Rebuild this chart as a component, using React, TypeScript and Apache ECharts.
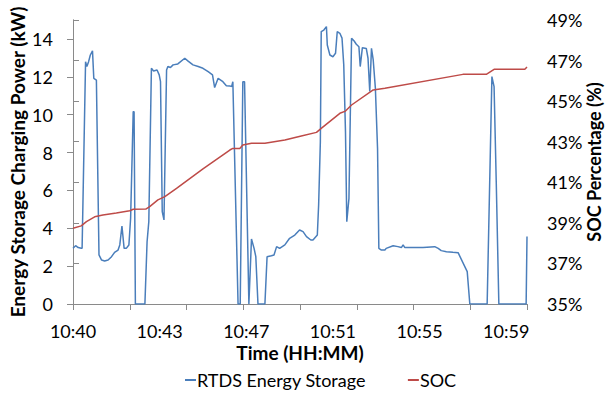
import React, { useEffect, useRef } from "react";
import * as echarts from "echarts";

// x positions are sample indices along the category-like time axis (0..1048)
const TIME_LABELS = ["10:40", "10:43", "10:47", "10:51", "10:55", "10:59"];
const LABEL_STEP = 200;
const X_MAX = 1048;
const TICK_STEP = 131;

const POWER_IDX = [
  0, 6, 12, 19, 21, 29, 32, 36, 40, 45, 48, 54, 60, 66, 73, 81, 89, 96, 104, 108, 113, 118, 123, 129, 133, 139, 141, 144,
  166, 171, 175, 181, 186, 194, 199, 202, 206, 210, 216, 219, 225, 231, 242, 258, 265, 277, 289, 300, 312, 322, 327, 335,
  346, 354, 362, 366, 369, 381, 386, 392, 396, 406, 412, 418, 422, 427, 443, 448, 458, 464, 470, 477, 489, 500, 512, 523,
  531, 539, 549, 554, 564, 567, 571, 573, 579, 585, 587, 593, 600, 606, 610, 616, 621, 625, 629, 632, 637, 643, 649, 654,
  660, 663, 668, 677, 681, 685, 689, 693, 698, 703, 706, 712, 720, 723, 739, 750, 758, 762, 766, 785, 808, 835, 843, 850,
  862, 877, 889, 910, 916, 956, 967, 972, 977, 983, 1046, 1048,
];
const POWER_KW = [
  2.94, 3.08, 2.98, 2.94, 2.94, 12.8, 12.54, 12.8, 13.15, 13.37, 11.92, 11.83, 2.59, 2.32, 2.27, 2.32, 2.5, 2.73, 2.85, 3.12,
  4.12, 2.94, 2.94, 3.12, 4.53, 10.16, 10.16, 0, 0, 3.29, 4.35, 12.45, 12.31, 12.36, 12.1, 11.74, 4.88, 4.44, 12.36, 12.54,
  12.49, 12.63, 12.68, 12.98, 12.84, 12.63, 12.54, 12.45, 12.27, 12.1, 11.43, 11.92, 11.74, 11.53, 11.52, 11.48, 11.74, 0, 0,
  11.74, 11.74, 0, 3.43, 2.94, 2.5, 0, 0, 2.5, 2.55, 2.59, 3.03, 2.94, 3.12, 3.47, 3.64, 3.91, 3.82, 3.56, 3.38, 3.38, 3.64,
  5.23, 8.57, 14.39, 14.47, 14.65, 13.68, 13.15, 13.06, 13.24, 14.39, 14.3, 14.04, 12.63, 9.1, 4.35, 5.58, 14.04, 13.89,
  13.72, 13.59, 12.54, 13.54, 13.5, 12.98, 11.22, 13.5, 12.89, 11.4, 8.22, 2.94, 2.85, 2.85, 2.94, 3.08, 3.03, 2.98, 3.12,
  2.98, 2.98, 2.98, 3.03, 2.94, 2.82, 2.76, 2.73, 2.71, 1.71, 0, 0, 12.01, 11.48, 6.46, 0, 0, 3.56,
];

const SOC_IDX = [
  0, 19, 31, 50, 69, 100, 131, 139, 168, 177, 196, 212, 239, 300, 362, 369, 385, 392, 412, 443, 489, 527, 562, 573, 616,
  629, 643, 693, 720, 900, 954, 972, 1043, 1048,
];
const SOC_PCT = [
  38.73, 38.85, 39.06, 39.3, 39.39, 39.49, 39.6, 39.67, 39.68, 39.8, 40.13, 40.29, 40.7, 41.66, 42.59, 42.67, 42.67, 42.84,
  42.92, 42.92, 43.08, 43.28, 43.46, 43.66, 44.4, 44.51, 44.81, 45.55, 45.63, 46.32, 46.32, 46.57, 46.57, 46.68,
];

const FONT = "Lato";
const AXIS_GRAY = "#8a8a8a";

export default function App() {
  const ref = useRef<HTMLDivElement>(null);
  useEffect(() => {
    if (!ref.current) return;
    const chart = echarts.init(ref.current, undefined, { renderer: "svg" });
    const powerData = POWER_IDX.map((x, i) => [x, POWER_KW[i]]);
    const socData = SOC_IDX.map((x, i) => [x, SOC_PCT[i]]);
    const axisLine = { show: true, lineStyle: { color: AXIS_GRAY, width: 1 } };
    const tick = { show: true, inside: false, length: 6, lineStyle: { color: AXIS_GRAY } };
    chart.setOption({
      animation: false,
      textStyle: { fontFamily: FONT },
      grid: { left: 73, right: 82, top: 20, bottom: 93, containLabel: false, outerBoundsMode: "none" },
      legend: {
        bottom: 3,
        left: 180,
        icon: "rect",
        itemWidth: 11,
        itemHeight: 2,
        itemGap: 42,
        textStyle: { fontFamily: FONT, fontSize: 18, color: "#000", padding: [0, 0, 0, -4] },
        data: ["RTDS Energy Storage", "SOC"],
      },
      xAxis: [
        {
          type: "value",
          min: 0,
          max: X_MAX,
          interval: TICK_STEP,
          position: "bottom",
          axisLine,
          axisTick: tick,
          axisLabel: { show: false },
          splitLine: { show: false },
          name: "Time (HH:MM)",
          nameLocation: "middle",
          nameGap: 39,
          nameMoveOverlap: false,
          nameTextStyle: { fontFamily: FONT, fontSize: 19, fontWeight: "bold", color: "#000" },
        },
        {
          type: "value",
          min: 0,
          max: X_MAX,
          interval: LABEL_STEP,
          position: "bottom",
          axisLine: { show: false },
          axisTick: { show: false },
          splitLine: { show: false },
          axisLabel: {
            margin: 18,
            fontSize: 18,
            color: "#000",
            fontFamily: FONT,
            showMaxLabel: false,
            formatter: (v: number) => {
              const k = Math.round(v / LABEL_STEP);
              return Math.abs(v - k * LABEL_STEP) < 1e-6 && TIME_LABELS[k] ? TIME_LABELS[k] : "";
            },
          },
        },
      ],
      yAxis: [
        {
          type: "value",
          min: 0,
          max: 15,
          interval: 2,
          position: "left",
          axisLine,
          axisTick: tick,
          splitLine: { show: false },
          axisLabel: { margin: 20, fontSize: 18, color: "#000", fontFamily: FONT, showMaxLabel: false },
          name: "Energy Storage Charging Power (kW)",
          nameLocation: "middle",
          nameGap: 46,
          nameMoveOverlap: false,
          nameRotate: 90,
          nameTextStyle: { fontFamily: FONT, fontSize: 19, fontWeight: "bold", color: "#000" },
        },
        {
          type: "value",
          min: 35,
          max: 49,
          interval: 2,
          position: "right",
          axisLine,
          axisTick: tick,
          splitLine: { show: false },
          axisLabel: { margin: 20, fontSize: 18, color: "#000", fontFamily: FONT, formatter: "{value}%" },
          name: "SOC Percentage (%)",
          nameLocation: "middle",
          nameGap: 58,
          nameMoveOverlap: false,
          nameRotate: 90,
          nameTextStyle: { fontFamily: FONT, fontSize: 18, fontWeight: "bold", color: "#000" },
        },
      ],
      series: [
        {
          name: "RTDS Energy Storage",
          type: "line",
          xAxisIndex: 0,
          yAxisIndex: 0,
          data: powerData,
          showSymbol: false,
          symbol: "none",
          lineStyle: { color: "#4a7ebb", width: 1.5 },
          itemStyle: { color: "#4a7ebb" },
          z: 2,
        },
        {
          name: "SOC",
          type: "line",
          xAxisIndex: 0,
          yAxisIndex: 1,
          data: socData,
          showSymbol: false,
          symbol: "none",
          lineStyle: { color: "#be4b48", width: 1.5 },
          itemStyle: { color: "#be4b48" },
          z: 3,
        },
      ],
    });
    return () => chart.dispose();
  }, []);
  return (
    <div
      ref={ref}
      style={{ position: "fixed", left: 0, top: 0, width: 609, height: 397, background: "#fff" }}
    />
  );
}
